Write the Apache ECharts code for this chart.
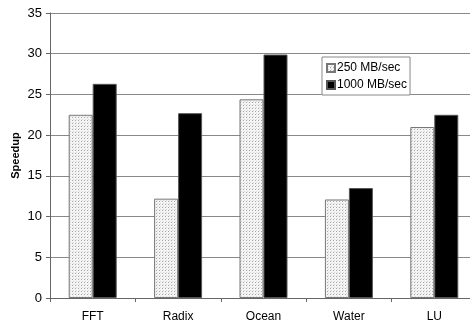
<!DOCTYPE html>
<html><head><meta charset="utf-8">
<script src="https://cdn.jsdelivr.net/npm/echarts@6/dist/echarts.min.js"></script>
<style>html,body{margin:0;padding:0;background:#fff}#c{width:470px;height:320px}</style>
</head><body><div id="c"></div>
<script>
var categories = ['FFT', 'Radix', 'Ocean', 'Water', 'LU'];
var series250 = [22.5, 12.2, 24.4, 12.1, 21.0];
var series1000 = [26.3, 22.7, 29.9, 13.5, 22.5];
var seriesNames = ['250 MB/sec', '1000 MB/sec'];

var pc = document.createElement('canvas');
pc.width = 3; pc.height = 3;
var g = pc.getContext('2d');
g.fillStyle = '#f4f4f4'; g.fillRect(0, 0, 3, 3);
g.fillStyle = '#a8a8a8'; g.fillRect(0, 0, 1, 1);
g.fillStyle = '#d8d8d8'; g.fillRect(1, 2, 1, 1);

var chart = echarts.init(document.getElementById('c'), null, {renderer: 'canvas'});
var font = 'Liberation Sans, Arial, sans-serif';
chart.setOption({
  animation: false,
  grid: {left: 50, top: 13, right: -7, bottom: 22, containLabel: false, outerBoundsMode: 'none'},
  legend: {
    orient: 'vertical', left: 322, top: 57,
    itemWidth: 8, itemHeight: 8, itemGap: 5,
    padding: [5, 3, 4, 4],
    borderColor: '#888', borderWidth: 1, backgroundColor: '#fff',
    textStyle: {fontFamily: font, fontSize: 12, color: '#000', padding: [0, 0, 0, -3]},
    icon: 'rect',
    data: seriesNames
  },
  xAxis: {
    type: 'category', data: categories,
    axisLine: {lineStyle: {color: '#666', width: 1}},
    axisTick: {show: true, length: 4, lineStyle: {color: '#666'}},
    axisLabel: {fontFamily: font, fontSize: 12, color: '#000', margin: 13}
  },
  yAxis: {
    type: 'value', min: 0, max: 35, interval: 5,
    name: 'Speedup', nameLocation: 'middle', nameGap: 29, nameRotate: 90,
    nameMoveOverlap: false,
    nameTextStyle: {fontFamily: font, fontSize: 11, fontWeight: 'bold', color: '#000'},
    axisLine: {show: true, lineStyle: {color: '#666', width: 1}},
    axisTick: {show: true, length: 4, inside: false, lineStyle: {color: '#666'}},
    axisLabel: {fontFamily: font, fontSize: 13, color: '#000', margin: 8},
    splitLine: {lineStyle: {color: '#888', width: 1}}
  },
  series: [
    {name: seriesNames[0], type: 'bar', data: series250, barWidth: 24, barGap: '0%',
     itemStyle: {color: {image: pc, repeat: 'repeat'}, borderColor: '#777', borderWidth: 1}},
    {name: seriesNames[1], type: 'bar', data: series1000, barWidth: 24,
     itemStyle: {color: '#000', borderColor: '#555', borderWidth: 1}}
  ]
});
</script></body></html>
